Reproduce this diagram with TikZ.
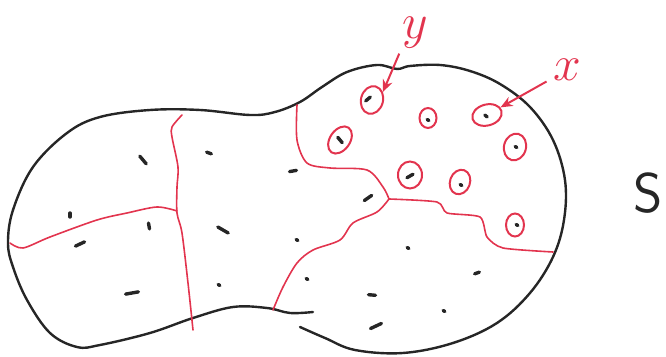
\documentclass[tikz,border=0pt]{standalone}
\usepackage{tikz}
\usetikzlibrary{shapes.geometric, arrows.meta, calc}
\definecolor{penred}{RGB}{226,52,78}
\definecolor{pendark}{RGB}{38,38,38}
\tikzset{
  outline/.style={draw=pendark, line width=1.2pt, line cap=round, line join=round},
  cellline/.style={draw=penred, line width=0.8pt, line cap=round, line join=round},
  ring/.style={ellipse, draw=penred, line width=1pt, inner sep=0pt},
  speck/.style={draw=pendark, line width=1.7pt, line cap=round},
  pointer/.style={-{Stealth[length=6pt, width=5pt]}, draw=penred, line width=1pt},
  tag/.style={text=penred, inner sep=0.5pt, font=\fontsize{24}{24}\selectfont}
}

\begin{document}
\begin{tikzpicture}[x=0.5pt, y=-0.5pt]
  \useasboundingbox (0,0) rectangle (666,357);

  % Region boundary
  \draw[outline] plot[smooth, tension=0.6] coordinates {
    (313,312) (290,313) (267,308) (233,307) (193,318) (150,333) (100,345)
    (77,347) (50,333) (27,300) (13,267) (8,243) (13,210) (33,167) (67,133)
    (100,117) (150,110) (200,110) (250,115) (275,112) (300,102) (322,87)
    (347,72) (377,65) (397,69) (410,66) (440,65) (470,71) (500,84) (530,107)
    (553,140) (565,180) (564,220) (553,257) (530,293) (497,323) (453,343)
    (403,353) (355,350) (325,338) (300,327)};

  % Cells
  \draw[cellline] plot[smooth, tension=0.5] coordinates {
    (10,243) (23,248) (50,237) (97,220) (127,213) (157,207) (177,211)};
  \draw[cellline] plot[smooth, tension=0.5] coordinates {
    (182,115) (172,127) (172,137) (178,167) (177,187) (177,213) (182,233)
    (188,283) (193,330)};
  \draw[cellline] plot[smooth, tension=0.5] coordinates {
    (297,105) (297,140) (307,163) (330,168) (367,170) (383,187) (389,199)};
  \draw[cellline] plot[smooth, tension=0.5] coordinates {
    (389,199) (377,212) (353,223) (340,240) (313,250) (297,263) (283,287)
    (273,310)};
  \draw[cellline] plot[smooth, tension=0.4] coordinates {
    (389,199) (437,202) (447,213) (480,217) (487,237) (503,248) (553,252)};

  % Points
  \foreach \px/\py/\a/\l in {143/160/50/10, 70/215/90/4, 149/226/80/6,
      80/244/-25/10, 132/293/-10/13, 209/153/20/5, 223/230/30/12,
      219/285/30/2, 293/171/-10/7, 297/240/30/2, 307/279/30/2,
      368/198/-35/9, 408/248/30/2, 477/273/-20/5, 372/295/5/7,
      444/311/30/2, 376/326/-25/12, 368/99/-40/6, 428/120/30/2,
      486/116/40/3, 340/140/50/7, 516/147/30/2, 410/176/-30/7,
      461/185/30/2, 517/225/30/2}
    \draw[speck] (\px,\py) ++(\a+180:\l/2) -- ++(\a:\l);

  % Selected points
  \node[ring, minimum width=11pt, minimum height=14pt, rotate=-15] (ry) at (372,100) {};
  \node[ring, minimum width=8.5pt, minimum height=10pt] (r2) at (428,118) {};
  \node[ring, minimum width=15pt, minimum height=10.5pt, rotate=15] (rx) at (487,115) {};
  \node[ring, minimum width=10pt, minimum height=15pt, rotate=-35] (r4) at (340,140) {};
  \node[ring, minimum width=11pt, minimum height=13.5pt, rotate=-15] (r5) at (515,147) {};
  \node[ring, minimum width=12pt, minimum height=13.5pt] (r6) at (410,175) {};
  \node[ring, minimum width=10pt, minimum height=12.5pt, rotate=-20] (r7) at (460,182) {};
  \node[ring, minimum width=9pt, minimum height=11.5pt] (r8) at (515,225) {};

  % Labels
  \node[tag] (ylab) at (415,33) {$y$};
  \node[tag] (xlab) at (567,70) {$x$};
  \node[text=pendark, font=\fontsize{28}{28}\selectfont\sffamily] (slab) at (648,193) {S};

  \draw[pointer, shorten <=2pt] (ylab.south west) -- (ry.north east);
  \draw[pointer, shorten <=3pt] (xlab) -- (rx);
\end{tikzpicture}
\end{document}
